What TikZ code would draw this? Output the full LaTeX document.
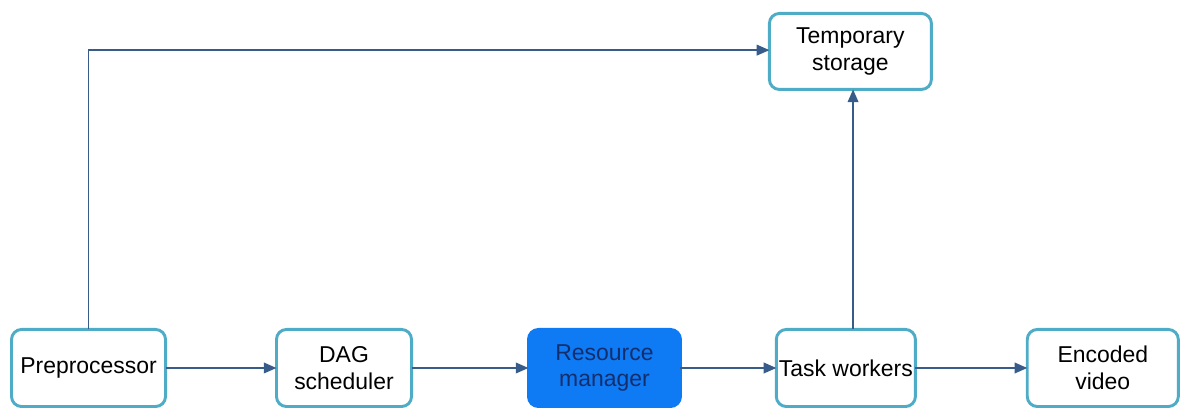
\documentclass[tikz,border=0pt]{standalone}
\usepackage{fontspec}
\setmainfont{Liberation Sans}
\usepackage{xcolor}
\usepackage{tikz}
\usetikzlibrary{arrows.meta, positioning, calc}
\definecolor{boxteal}{RGB}{78, 172, 198}
\definecolor{arrowblue}{RGB}{55, 92, 138}
\definecolor{mgrblue}{RGB}{14, 122, 244}
\definecolor{mgrtext}{RGB}{20, 46, 108}

\begin{document}
\begin{tikzpicture}[
    base/.style={rectangle, rounded corners=7.5pt, draw=boxteal, line width=2.2pt, fill=white, align=center, font=\fontsize{17.2}{20}\selectfont, minimum height=57.8pt, inner xsep=1pt, inner ysep=3pt, outer sep=0pt},
    manager/.style={base, draw=mgrblue, fill=mgrblue, text=mgrtext},
    line/.style={draw=arrowblue, line width=1.2pt, -{Triangle[length=9.5pt, width=8pt]}}
]

\useasboundingbox (-66.4pt,-31.5pt) rectangle (820.1pt,276pt);

\node[base, minimum width=115.5pt] (pre) at (0,0) {Preprocessor};
\node[base, minimum width=101.3pt, right=83.2pt of pre] (dag) {DAG\\scheduler};
\node[manager, minimum width=114pt, right=87.7pt of dag] (res) {Resource\\manager};
\node[base, minimum width=104.3pt, right=71.9pt of res] (task) {Task workers};
\node[base, minimum width=113.3pt, right=83.9pt of task] (enc) {Encoded\\video};

\node[base, minimum width=121.5pt, minimum height=57pt, above=180pt of task, xshift=3.4pt] (tmp) {Temporary\\storage};

\draw[line] (pre) -- (dag);
\draw[line] (dag) -- (res);
\draw[line] (res) -- (task);
\draw[line] (task) -- (enc);
\draw[line] (pre.north) |- ($(tmp.west)+(0,1pt)$);
\draw[line] ($(tmp.south |- task.north)+(2pt,0)$) -- ($(tmp.south)+(2pt,0)$);

\end{tikzpicture}
\end{document}
